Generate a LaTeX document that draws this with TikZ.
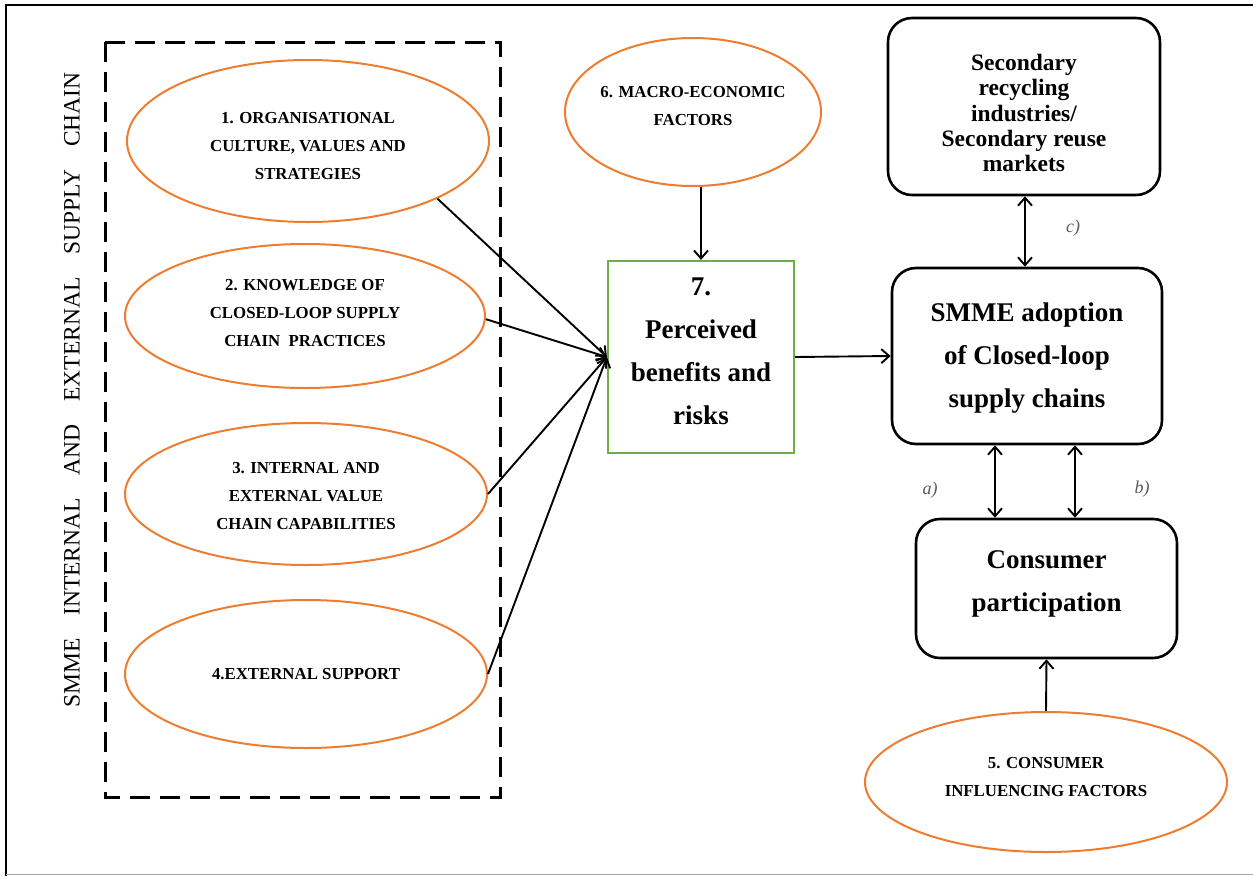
\documentclass[tikz,border=0pt]{standalone}
\usepackage{fontspec}
\setmainfont{Liberation Serif}
\usetikzlibrary{shapes.geometric,arrows.meta}
\definecolor{ovalorange}{HTML}{ED7D31}
\definecolor{boxgreen}{HTML}{70AD47}
\definecolor{labelgray}{HTML}{5A5A5A}

\begin{document}
\begin{tikzpicture}[x=1pt,y=-1pt,
  factor/.style={ellipse, draw=ovalorange, line width=2pt, fill=white, inner sep=0pt},
  factortext/.style={align=center, inner sep=0pt,
    font=\bfseries\fontsize{16.8}{28}\selectfont},
  outcome/.style={rectangle, rounded corners=24pt, draw=black, line width=2.6pt, inner sep=0pt},
  benefitbox/.style={rectangle, draw=boxgreen, line width=2.2pt, inner sep=0pt},
  boxtext/.style={align=center, inner sep=0pt,
    font=\bfseries\fontsize{27}{43}\selectfont},
  flow/.style={line width=1.9pt, -{Straight Barb[length=8pt,width=14pt]}},
  twoway/.style={line width=1.9pt, {Straight Barb[length=8pt,width=14pt]}-{Straight Barb[length=8pt,width=14pt]}},
  linklabel/.style={font=\itshape\fontsize{18}{20}\selectfont, text=labelgray, inner sep=0pt}
]
\useasboundingbox (0,0) rectangle (1253,876);

% outer frame
\draw[line width=2pt] (6,876) -- (6,5) -- (1253,5);
\draw[line width=1.5pt, black!35] (6,874.5) -- (1253,874.5);

% dashed group of internal/external supply chain factors
\draw[line width=3pt, dash pattern=on 20pt off 10pt] (105,42) rectangle (500,797);
\node[rotate=90, inner sep=0pt, font=\fontsize{23.5}{26}\selectfont] (grouptitle) at (72,390)
  {\hbox to 635pt{SMME\hfill INTERNAL\hfill AND\hfill EXTERNAL\hfill SUPPLY\hfill CHAIN}};

% factor ellipses
\node[factor, minimum width=362pt, minimum height=162pt] (e1) at (308,141) {};
\node[factortext, yshift=-5.5pt] (e1text) at (e1)
  {1. ORGANISATIONAL\\CULTURE, VALUES AND\\STRATEGIES};
\node[factor, minimum width=360pt, minimum height=144pt] (e2) at (305,316) {};
\node[factortext, yshift=3pt] (e2text) at (e2)
  {2. KNOWLEDGE OF\\CLOSED-LOOP SUPPLY\\CHAIN\ \ PRACTICES};
\node[factor, minimum width=362pt, minimum height=142pt] (e3) at (306,494) {};
\node[factortext, yshift=-2pt] (e3text) at (e3)
  {3. INTERNAL AND\\EXTERNAL VALUE\\CHAIN CAPABILITIES};
\node[factor, minimum width=362pt, minimum height=148pt] (e4) at (306,674) {};
\node[factortext] (e4text) at (e4) {4.EXTERNAL SUPPORT};
\node[factor, minimum width=256pt, minimum height=148pt] (e6) at (693,112) {};
\node[factortext, yshift=5.5pt] (e6text) at (e6) {6. MACRO-ECONOMIC\\FACTORS};
\node[factor, minimum width=362pt, minimum height=140pt] (e5) at (1046,782) {};
\node[factortext, yshift=5pt] (e5text) at (e5) {5. CONSUMER\\INFLUENCING FACTORS};

% central and outcome boxes
\node[benefitbox, minimum width=186pt, minimum height=192pt] (b7) at (701,357) {};
\node[boxtext, yshift=6pt] (b7text) at (b7) {7.\\Perceived\\benefits and\\risks};
\node[outcome, minimum width=270pt, minimum height=176pt] (adopt) at (1027,356) {};
\node[boxtext, yshift=-2.5pt] (adopttext) at (adopt)
  {SMME adoption\\of Closed-loop\\supply chains};
\node[outcome, minimum width=272pt, minimum height=177pt] (second) at (1024,106.5) {};
\node[boxtext, font=\bfseries\fontsize{23.5}{25.3}\selectfont, yshift=-6.5pt] (secondtext) at (second)
  {Secondary\\recycling\\industries/\\Secondary reuse\\markets};
\node[outcome, minimum width=261pt, minimum height=139pt] (consumer) at (1046.5,588.5) {};
\node[boxtext, yshift=4.5pt] (consumertext) at (consumer) {Consumer\\participation};

% influences on perceived benefits and risks
\draw[flow] (e1.-24) -- (b7.west);
\draw[flow] (e2.-1) -- (b7.west);
\draw[flow] (e3.east) -- (b7.west);
\draw[flow] (e4.east) -- (b7.west);
\draw[flow] (e6.south -| b7.north) -- (b7.north);
\draw[flow] (b7.east) -- (adopt.west);
\draw[flow] (e5.north) -- (consumer.south);

% two-way links
\coordinate (ctop) at (1025,0);
\draw[twoway] (second.south -| ctop) -- (adopt.north -| ctop);
\coordinate (acol) at (995,0);
\coordinate (bcol) at (1075,0);
\draw[twoway] (adopt.south -| acol) -- (consumer.north -| acol);
\draw[twoway] (adopt.south -| bcol) -- (consumer.north -| bcol);

\node[linklabel] (lc) at (1073,228) {c)};
\node[linklabel] (la) at (930,490) {a)};
\node[linklabel] (lb) at (1142,489) {b)};
\end{tikzpicture}
\end{document}
